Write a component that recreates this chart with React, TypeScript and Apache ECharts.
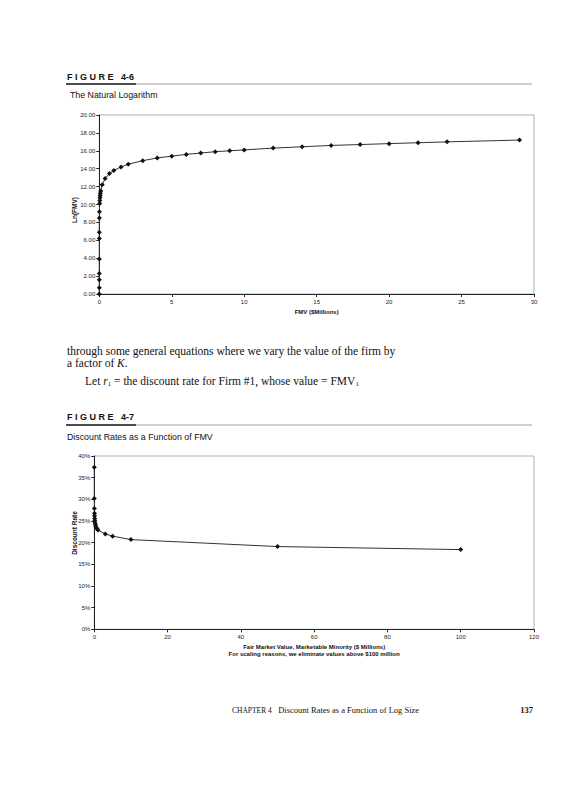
import React, { useEffect, useRef } from "react";
import * as echarts from "echarts";

// Figure 4-6: The Natural Logarithm
const fmv1: number[] = [0.000001, 0.000002, 0.000005, 0.00001, 0.00005, 0.0005, 0.001, 0.005, 0.01, 0.025, 0.035, 0.045, 0.06, 0.075, 0.1, 0.2, 0.4, 0.7, 1, 1.5, 2, 3, 4, 5, 6, 7, 8, 9, 10, 12, 14, 16, 18, 20, 22, 24, 29];
const lnFmv: number[] = [0, 0.7, 1.6, 2.3, 3.9, 6.2, 6.9, 8.5, 9.2, 10.1, 10.45, 10.75, 11.0, 11.25, 11.5, 12.2, 12.9, 13.45, 13.8, 14.2, 14.5, 14.9, 15.2, 15.4, 15.6, 15.75, 15.9, 16.0, 16.1, 16.3, 16.45, 16.6, 16.7, 16.8, 16.9, 17.0, 17.2];

// Figure 4-7: Discount Rates as a Function of FMV
const fmv2: number[] = [0.001, 0.01, 0.025, 0.05, 0.075, 0.1, 0.15, 0.2, 0.3, 0.4, 0.5, 0.75, 1, 3, 5, 10, 50, 100];
const discountRate: number[] = [37.4, 30.2, 27.9, 26.8, 26.2, 25.6, 25.1, 24.6, 24.2, 23.8, 23.5, 23.2, 22.9, 22.0, 21.5, 20.7, 19.1, 18.4];

const SANS = "'Liberation Sans', Arial, sans-serif";
const SERIF = "'Liberation Serif', 'DejaVu Serif', serif";

export default function App() {
  const ref = useRef<HTMLDivElement>(null);
  useEffect(() => {
    if (!ref.current) return;
    const chart = echarts.init(ref.current, undefined, { renderer: "svg" });
    const axisCommon = {
      axisLine: { show: true, lineStyle: { color: "#222", width: 1 } },
      axisTick: { show: true, length: 3, inside: false, lineStyle: { color: "#222" } },
      splitLine: { show: false },
    };
    const labelStyle = { fontFamily: SANS, fontSize: 6, color: "#222" };
    const nameStyle = { fontFamily: SANS, fontSize: 6, fontWeight: "bold" as const, color: "#111" };
    const d1 = fmv1.map((x, i) => [x, lnFmv[i]]);
    const d2 = fmv2.map((x, i) => [x, discountRate[i]]);
    const option: any = {
      animation: false,
      backgroundColor: "#fff",
      grid: [
        { left: 99.3, top: 115, width: 434.7, height: 179, show: true, borderColor: "#b0b0b0", borderWidth: 1 },
        { left: 94.3, top: 456, width: 439.7, height: 173.3, show: true, borderColor: "#b0b0b0", borderWidth: 1 },
      ],
      xAxis: [
        {
          gridIndex: 0, type: "value", min: 0, max: 30, interval: 5, ...axisCommon,
          axisLabel: { ...labelStyle, margin: 5 },
          name: "FMV ($Millions)", nameLocation: "middle", nameGap: 15, nameTextStyle: nameStyle,
        },
        {
          gridIndex: 1, type: "value", min: 0, max: 120, interval: 20, ...axisCommon,
          axisLabel: { ...labelStyle, margin: 5 },
          name: "Fair Market Value, Marketable Minority ($ Millions)\nFor scaling reasons, we eliminate values above $100 million",
          nameLocation: "middle", nameGap: 14, nameTextStyle: { ...nameStyle, lineHeight: 7 },
        },
      ],
      yAxis: [
        {
          gridIndex: 0, type: "value", min: 0, max: 20, interval: 2, ...axisCommon,
          axisLabel: { ...labelStyle, margin: 4, formatter: (v: number) => v.toFixed(2) },
        },
        {
          gridIndex: 1, type: "value", min: 0, max: 40, interval: 5, ...axisCommon,
          axisLabel: { ...labelStyle, margin: 4, formatter: "{value}%" },
        },
      ],
      series: [
        {
          type: "line", xAxisIndex: 0, yAxisIndex: 0, data: d1,
          symbol: "diamond", symbolSize: 5, showSymbol: true,
          itemStyle: { color: "#111" }, lineStyle: { color: "#333", width: 1 },
        },
        {
          type: "line", xAxisIndex: 1, yAxisIndex: 1, data: d2,
          symbol: "diamond", symbolSize: 5, showSymbol: true,
          itemStyle: { color: "#111" }, lineStyle: { color: "#333", width: 1 },
        },
      ],
      graphic: [
        // Figure 4-6 header
        { type: "text", x: 67, y: 77, style: { text: "F I G U R E   4-6", font: `bold 9px ${SANS}`, fill: "#111", verticalAlign: "middle" } },
        { type: "line", shape: { x1: 66, y1: 84, x2: 136, y2: 84 }, style: { stroke: "#111", lineWidth: 1.5 } },
        { type: "line", shape: { x1: 136, y1: 84, x2: 532, y2: 84 }, style: { stroke: "#a0a0a0", lineWidth: 1 } },
        { type: "text", x: 70, y: 95, style: { text: "The Natural Logarithm", font: `8.8px ${SANS}`, fill: "#111", verticalAlign: "middle" } },
        // Y-axis titles
        { type: "text", x: 74, y: 210, rotation: Math.PI / 2, style: { text: "Ln(FMV)", font: `bold 6.5px ${SANS}`, fill: "#111", align: "center", verticalAlign: "middle" } },
        { type: "text", x: 74, y: 533, rotation: Math.PI / 2, style: { text: "Discount Rate", font: `bold 6.5px ${SANS}`, fill: "#111", align: "center", verticalAlign: "middle" } },
        // Body text
        {
          type: "text", x: 67, y: 345,
          style: {
            text: "through some general equations where we vary the value of the firm by\na factor of {i|K}.",
            font: `11.5px ${SERIF}`, fill: "#111", verticalAlign: "top", lineHeight: 12,
            rich: { i: { fontFamily: SERIF, fontSize: 11.5, fontStyle: "italic", lineHeight: 12 } },
          },
        },
        {
          type: "text", x: 85, y: 381,
          style: {
            text: "Let {i|r}{s|1} = the discount rate for Firm #1, whose value = FMV{s|1}", font: `11.5px ${SERIF}`, fill: "#111", verticalAlign: "middle",
            rich: {
              i: { fontFamily: SERIF, fontSize: 11.5, fontStyle: "italic" },
              s: { fontFamily: SERIF, fontSize: 7, padding: [6, 0, 0, 0] },
            },
          },
        },
        // Figure 4-7 header
        { type: "text", x: 67, y: 417, style: { text: "F I G U R E   4-7", font: `bold 9px ${SANS}`, fill: "#111", verticalAlign: "middle" } },
        { type: "line", shape: { x1: 66, y1: 425, x2: 136, y2: 425 }, style: { stroke: "#111", lineWidth: 1.5 } },
        { type: "line", shape: { x1: 136, y1: 425, x2: 532, y2: 425 }, style: { stroke: "#a0a0a0", lineWidth: 1 } },
        { type: "text", x: 67, y: 437, style: { text: "Discount Rates as a Function of FMV", font: `8.8px ${SANS}`, fill: "#111", verticalAlign: "middle" } },
        // Footer
        {
          type: "text", x: 232, y: 710,
          style: {
            text: "{c|CHAPTER 4}   Discount Rates as a Function of Log Size", font: `8.5px ${SERIF}`, fill: "#111", verticalAlign: "middle",
            rich: { c: { fontFamily: SERIF, fontSize: 7.5 } },
          },
        },
        { type: "text", x: 533, y: 710, style: { text: "137", font: `bold 8.5px ${SERIF}`, fill: "#111", align: "right", verticalAlign: "middle" } },
      ],
    };
    chart.setOption(option);
    return () => chart.dispose();
  }, []);
  return <div ref={ref} style={{ position: "fixed", left: 0, top: 0, width: 564, height: 800, background: "#fff" }} />;
}
